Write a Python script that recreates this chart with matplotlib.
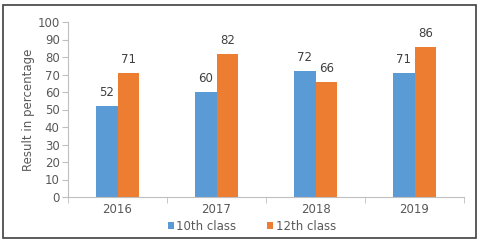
import matplotlib.pyplot as plt
import numpy as np
from matplotlib.patches import Rectangle

years = ["2016", "2017", "2018", "2019"]
class10 = [52, 60, 72, 71]
class12 = [71, 82, 66, 86]
series_names = ["10th class", "12th class"]
yticks = list(range(0, 101, 10))

blue = "#5B9BD5"
orange = "#ED7D31"
grey = "#595959"

fig = plt.figure(figsize=(4.78, 2.4), dpi=100)
ax = fig.add_axes([68 / 478, 1 - 197 / 240, 396 / 478, 175 / 240])

x = np.arange(len(years))
w = 0.217
b1 = ax.bar(x - w / 2, class10, w, color=blue, label=series_names[0])
b2 = ax.bar(x + w / 2, class12, w, color=orange, label=series_names[1])

# value labels above each bar
for bars in (b1, b2):
    for rect in bars:
        ax.annotate(f"{rect.get_height():g}",
                    (rect.get_x() + rect.get_width() / 2, rect.get_height()),
                    xytext=(0, 5), textcoords="offset points",
                    ha="center", va="bottom", fontsize=8.5, color="#404040")

ax.set_xlim(-0.5, len(years) - 0.5)
ax.set_ylim(0, 100)
ax.set_yticks(yticks)
ax.set_xticks(x)
ax.set_xticklabels(years)
ax.set_xticks(np.arange(len(years) + 1) - 0.5, minor=True)
ax.tick_params(axis="x", which="major", length=0, pad=4, labelsize=8.5, labelcolor=grey)
ax.tick_params(axis="x", which="minor", length=4, color="#bfbfbf")
ax.tick_params(axis="y", length=4, color="#bfbfbf", labelsize=8.5, labelcolor=grey, pad=2)
ax.set_ylabel("Result in percentage", fontsize=8.5, color=grey, labelpad=1.5)

for s in ("top", "right"):
    ax.spines[s].set_visible(False)
ax.spines["left"].set_color("#bfbfbf")
ax.spines["bottom"].set_color("#bfbfbf")

fig.legend(loc="center", bbox_to_anchor=(252 / 478, 1 - 226 / 240), ncol=2,
           frameon=False, fontsize=8.5, handlelength=0.5, handleheight=0.5,
           columnspacing=2.6, handletextpad=0.25, labelcolor=grey)

# frame around the whole picture
fig.patches.append(Rectangle((3 / 478, 2 / 240), 473 / 478, 233 / 240,
                             transform=fig.transFigure, fill=False,
                             edgecolor="#404040", linewidth=1.2))

fig.savefig("out.png", dpi=100)
